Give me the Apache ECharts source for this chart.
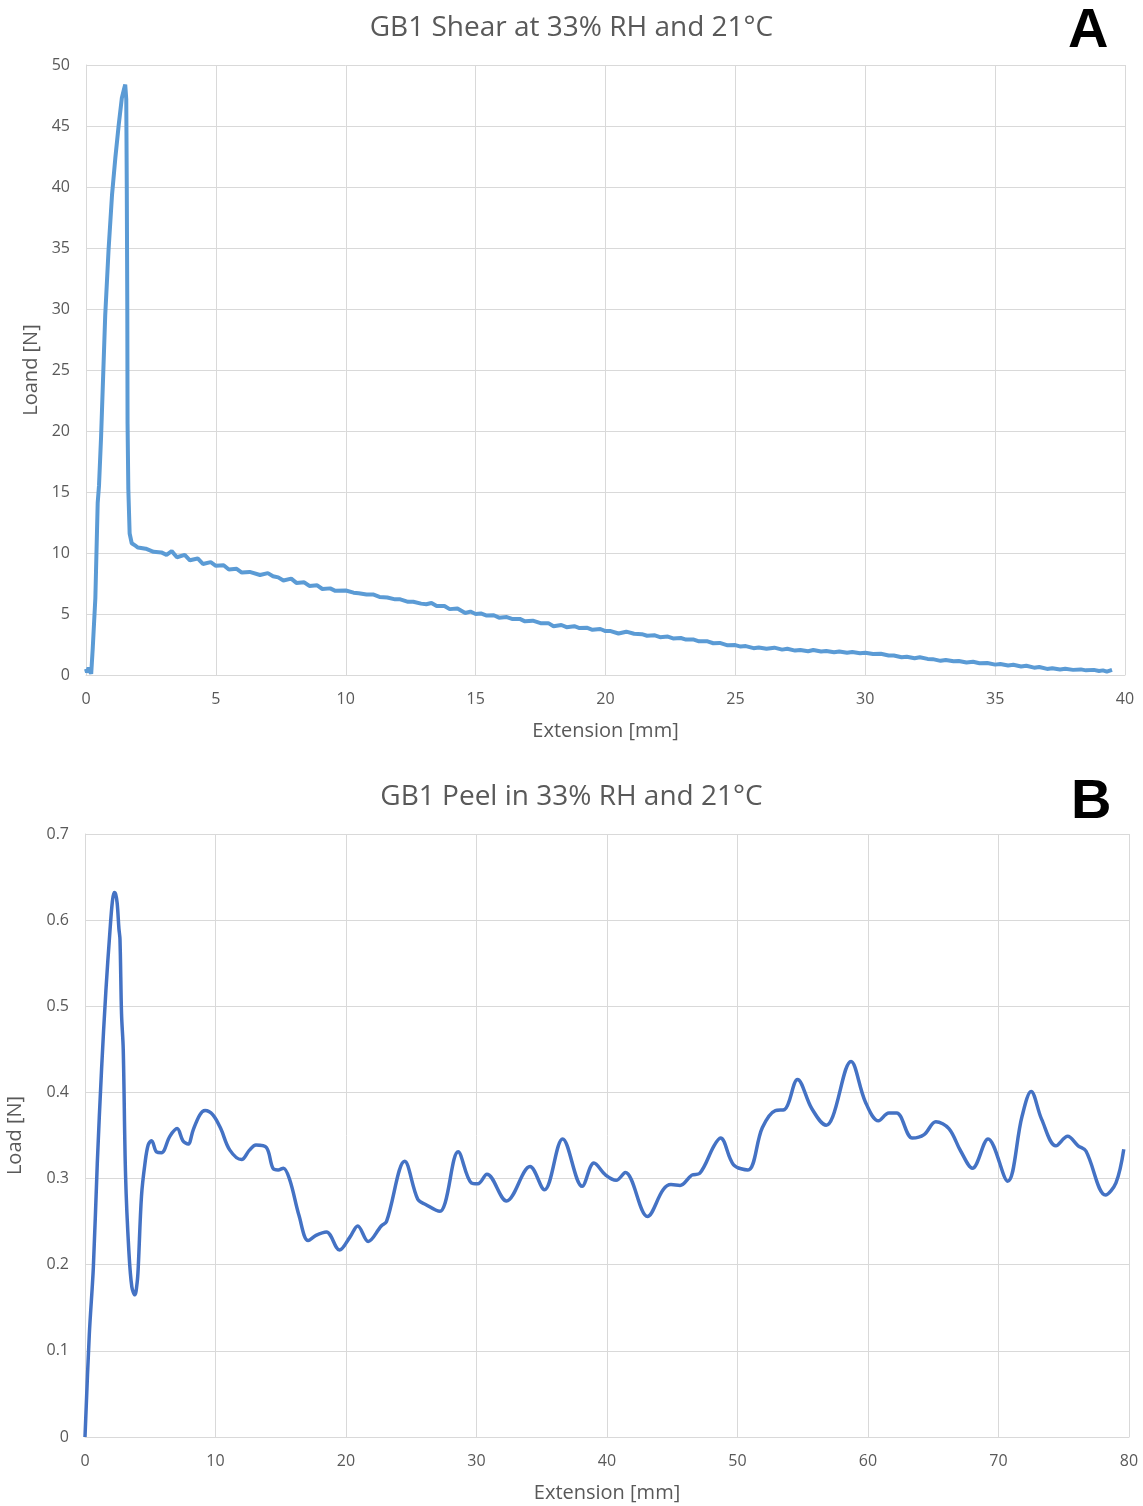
<!DOCTYPE html>
<html>
<head>
<meta charset="utf-8">
<script src="https://cdn.jsdelivr.net/npm/echarts@6/dist/echarts.min.js"></script>
<style>html,body{margin:0;padding:0;background:#fff}#c{width:1143px;height:1506px}</style>
</head>
<body>
<div id="c"></div>
<script>
// Chart A: shear
const shearX = [0,0.04,0.1,0.16,0.2,0.26,0.36,0.45,0.5,0.58,0.66,0.74,0.87,1.0,1.13,1.26,1.38,1.46,1.51,1.55,1.57,1.59,1.6,1.63,1.68,1.76,1.9,
2.0,2.3,2.6,2.9,3.1,3.3,3.5,3.8,4.0,4.3,4.5,4.8,5.0,5.3,5.5,5.8,6.0,6.3,6.7,7.0,7.2,7.4,7.6,7.9,8.1,8.4,8.6,8.9,9.1,9.4,9.6,10.0,10.3,10.5,10.8,11.05,11.3,11.6,11.9,12.1,12.4,12.6,12.9,13.1,13.3,13.5,13.8,14.0,14.3,14.6,14.8,15.0,15.2,15.4,15.7,15.9,16.2,16.4,16.7,16.9,17.2,17.5,17.8,18.0,18.3,18.5,18.8,19.0,19.3,19.5,19.8,20.0,20.2,20.5,20.8,21.1,21.4,21.6,21.9,22.1,22.4,22.6,22.9,23.1,23.4,23.6,23.9,24.15,24.4,24.7,25.0,25.2,25.4,25.7,25.9,26.2,26.5,26.8,27.0,27.3,27.5,27.8,28.0,28.3,28.5,28.8,29.0,29.3,29.5,29.8,30.0,30.3,30.6,30.9,31.1,31.4,31.6,31.9,32.1,32.4,32.6,32.9,33.1,33.4,33.6,33.9,34.15,34.4,34.7,35.0,35.2,35.5,35.7,36.0,36.2,36.5,36.7,37.0,37.2,37.5,37.7,38.0,38.3,38.5,38.8,39.0,39.15,39.3,39.5];
const shearY = [0.5,0.2,0.6,0.3,0.1,2.2,6.3,14.1,15.5,19.5,24.5,29.5,34.9,39.3,42.4,45.1,47.3,48.0,48.4,47.2,40,30,20.6,15.2,11.6,10.8,10.6,
10.45,10.35,10.1,10.05,9.85,10.15,9.65,9.85,9.4,9.55,9.1,9.25,8.95,9.0,8.65,8.7,8.4,8.45,8.2,8.35,8.1,8.0,7.75,7.9,7.55,7.6,7.3,7.35,7.05,7.1,6.9,6.93,6.75,6.7,6.6,6.6,6.4,6.35,6.2,6.2,6.0,6.0,5.85,5.8,5.9,5.65,5.65,5.4,5.45,5.08,5.2,5.0,5.05,4.88,4.9,4.7,4.75,4.6,4.6,4.4,4.45,4.25,4.25,4.0,4.1,3.92,4.0,3.85,3.87,3.7,3.77,3.6,3.6,3.4,3.55,3.38,3.35,3.22,3.25,3.1,3.15,3.0,3.03,2.9,2.9,2.76,2.77,2.6,2.63,2.43,2.45,2.33,2.37,2.2,2.25,2.16,2.24,2.08,2.15,2.0,2.05,1.95,2.05,1.93,1.97,1.87,1.93,1.82,1.88,1.79,1.83,1.72,1.74,1.6,1.6,1.46,1.5,1.38,1.45,1.32,1.3,1.16,1.23,1.12,1.15,1.03,1.08,0.96,0.99,0.85,0.9,0.78,0.84,0.7,0.76,0.6,0.66,0.5,0.56,0.45,0.51,0.42,0.46,0.38,0.42,0.33,0.38,0.28,0.42,0.55];

// Chart B: peel
const peelX = [0,0.33,0.64,0.94,1.27,1.6,1.91,2.1,2.24,2.35,2.47,2.6,2.68,2.8,2.93,3.11,3.36,3.59,3.82,4.0,4.08,4.33,4.59,4.84,5.1,5.48,5.86,6.5,7.06,7.5,7.9,8.28,8.8,9.2,9.8,10.4,11.1,12.0,12.6,13.1,13.9,14.4,14.8,15.2,15.7,16.4,17.1,17.7,18.5,19.5,20.3,20.9,21.7,22.7,23.1,24.5,25.5,26.1,27.2,27.6,28.6,29.6,30.1,30.8,32.3,34.1,35.2,36.6,38.1,39.0,39.9,40.7,41.4,43.1,44.3,44.9,45.6,46.5,47.1,48.2,48.7,49.7,50.8,51.9,52.9,53.6,54.6,55.7,56.8,57.3,58.7,59.8,60.8,61.6,62.2,63.4,64.3,65.2,66.2,67.1,68.0,69.2,70.7,71.8,72.5,73.3,74.4,75.3,76.1,76.7,78.2,79.0,79.6];
const peelY = [0,0.119,0.197,0.317,0.427,0.518,0.587,0.622,0.632,0.630,0.619,0.59,0.578,0.491,0.45,0.303,0.216,0.174,0.165,0.18,0.197,0.28,0.317,0.339,0.344,0.331,0.330,0.349,0.358,0.344,0.340,0.356,0.374,0.379,0.374,0.358,0.333,0.322,0.333,0.339,0.336,0.312,0.310,0.312,0.298,0.257,0.228,0.234,0.238,0.217,0.232,0.245,0.227,0.245,0.25,0.32,0.276,0.27,0.262,0.272,0.331,0.295,0.294,0.305,0.274,0.314,0.287,0.346,0.291,0.318,0.304,0.298,0.307,0.256,0.287,0.293,0.292,0.304,0.306,0.338,0.347,0.316,0.310,0.359,0.379,0.380,0.415,0.381,0.362,0.372,0.436,0.389,0.367,0.376,0.376,0.347,0.351,0.366,0.358,0.332,0.312,0.346,0.297,0.372,0.401,0.369,0.338,0.349,0.338,0.332,0.281,0.295,0.334];

const titleA = 'GB1 Shear at 33% RH and 21°C';
const titleB = 'GB1 Peel in 33% RH and 21°C';

const shearData = shearX.map((x, i) => [x, shearY[i]]);
const peelData = peelX.map((x, i) => [x, peelY[i]]);

const FONT = 'Open Sans';
const grey = '#595959';
const gridCol = '#d9d9d9';

function xAxis(gridIndex, max, interval) {
  return {
    type: 'value', gridIndex, min: 0, max, interval,
    name: 'Extension [mm]', nameLocation: 'middle', nameGap: 46,
    nameTextStyle: { color: grey, fontSize: 20, fontFamily: FONT },
    axisLine: { show: true, lineStyle: { color: gridCol } },
    axisTick: { show: false },
    axisLabel: { color: grey, fontSize: 16, fontFamily: FONT, margin: 16 },
    splitLine: { show: true, lineStyle: { color: gridCol } }
  };
}
function yAxis(gridIndex, max, interval, name, nameGap) {
  return {
    type: 'value', gridIndex, min: 0, max, interval,
    name, nameLocation: 'middle', nameGap,
    nameTextStyle: { color: grey, fontSize: 20, fontFamily: FONT },
    axisLine: { show: true, lineStyle: { color: gridCol } },
    axisTick: { show: false },
    axisLabel: { color: grey, fontSize: 16, fontFamily: FONT, margin: 16 },
    splitLine: { show: true, lineStyle: { color: gridCol } }
  };
}

const chart = echarts.init(document.getElementById('c'), null, { renderer: 'canvas' });
chart.setOption({
  backgroundColor: '#fff',
  animation: false,
  title: [
    { text: titleA, left: 'center', top: 9, textStyle: { color: grey, fontSize: 28, fontWeight: 'normal', fontFamily: FONT } },
    { text: 'A', left: 1063, top: -1, textStyle: { color: '#000', fontSize: 56, fontWeight: 'bold', fontFamily: 'Liberation Sans' } },
    { text: titleB, left: 'center', top: 778, textStyle: { color: grey, fontSize: 28, fontWeight: 'normal', fontFamily: FONT } },
    { text: 'B', left: 1066, top: 770, textStyle: { color: '#000', fontSize: 56, fontWeight: 'bold', fontFamily: 'Liberation Sans' } }
  ],
  grid: [
    { left: 86, right: 18, top: 65, height: 610, outerBoundsMode: 'none', containLabel: false },
    { left: 85, right: 14, top: 834, height: 603, outerBoundsMode: 'none', containLabel: false }
  ],
  xAxis: [xAxis(0, 40, 5), xAxis(1, 80, 10)],
  yAxis: [yAxis(0, 50, 5, 'Loand [N]', 44), yAxis(1, 0.7, 0.1, 'Load [N]', 60)],
  series: [
    { type: 'line', xAxisIndex: 0, yAxisIndex: 0, data: shearData, showSymbol: false,
      lineStyle: { color: '#5B9BD5', width: 4 }, smooth: false },
    { type: 'line', xAxisIndex: 1, yAxisIndex: 1, data: peelData, showSymbol: false,
      lineStyle: { color: '#4472C4', width: 3.5 }, smooth: 0.35 }
  ]
});
</script>
</body>
</html>
